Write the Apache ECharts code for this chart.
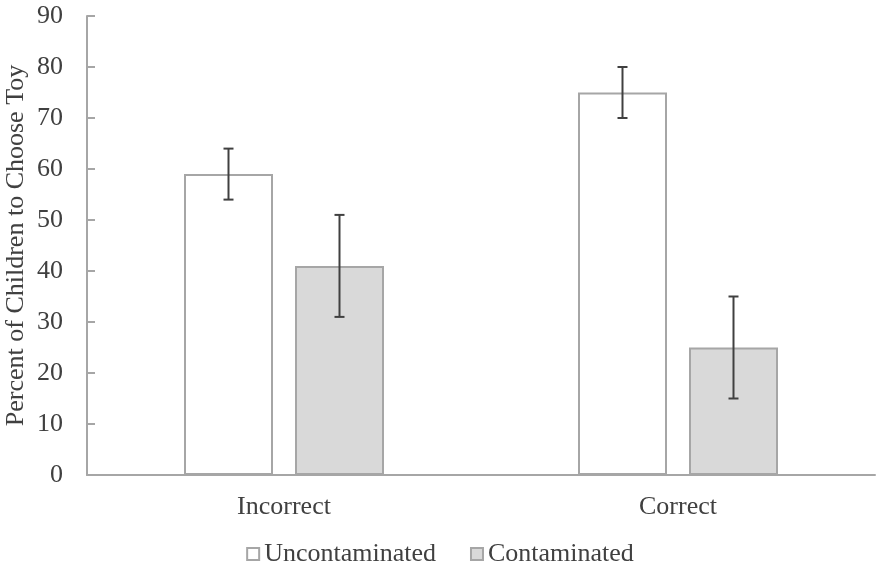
<!DOCTYPE html>
<html>
<head>
<meta charset="utf-8">
<script src="https://cdn.jsdelivr.net/npm/echarts@6/dist/echarts.min.js"></script>
<style>
  html, body { margin: 0; padding: 0; background: #fff; }
  #chart { width: 880px; height: 573px; }
</style>
</head>
<body>
<div id="chart"></div>
<script>
// 数据
var categories = ['Incorrect', 'Correct'];
var seriesNames = ['Uncontaminated', 'Contaminated'];
var uncontaminated = [59, 75];
var contaminated = [41, 25];
var uncontErr = [5, 5];
var contErr = [10, 10];
var yTicks = [0, 90, 10]; // min, max, interval

var font = 'Liberation Serif, Times New Roman, serif';
var barW = 89;
var barGapPx = 22;

// 误差线
function errorSeries(name, vals, errs, side) {
  var data = vals.map(function (v, i) { return [i, v - errs[i], v + errs[i]]; });
  return {
    type: 'custom',
    name: name + ' err',
    data: data,
    z: 10,
    silent: true,
    renderItem: function (params, api) {
      var i = api.value(0);
      var lo = api.coord([i, api.value(1)]);
      var hi = api.coord([i, api.value(2)]);
      var x = lo[0] + side * (barW + barGapPx) / 2;
      var cap = 5;
      var st = { stroke: '#404040', lineWidth: 2 };
      return {
        type: 'group',
        children: [
          { type: 'line', shape: { x1: x, y1: lo[1], x2: x, y2: hi[1] }, style: st },
          { type: 'line', shape: { x1: x - cap, y1: lo[1], x2: x + cap, y2: lo[1] }, style: st },
          { type: 'line', shape: { x1: x - cap, y1: hi[1], x2: x + cap, y2: hi[1] }, style: st }
        ]
      };
    }
  };
}

var myChart = echarts.init(document.getElementById('chart'));

var option = {
  animation: false,
  backgroundColor: '#fff',
  textStyle: { fontFamily: font },
  grid: { left: 87, right: 5, top: 16, bottom: 98, containLabel: false, outerBoundsMode: 'none' },
  legend: {
    data: seriesNames,
    icon: 'rect',
    top: 536,
    left: 'center',
    itemWidth: 12,
    itemHeight: 12,
    itemGap: 34,
    textStyle: { fontFamily: font, fontSize: 26, color: '#404040', padding: [0, 0, 0, 0] }
  },
  xAxis: {
    type: 'category',
    data: categories,
    axisLine: { lineStyle: { color: '#a6a6a6', width: 2 } },
    axisTick: { show: false },
    axisLabel: { fontFamily: font, fontSize: 26, color: '#404040', margin: 19 }
  },
  yAxis: {
    type: 'value',
    min: yTicks[0],
    max: yTicks[1],
    interval: yTicks[2],
    name: 'Percent of Children to Choose Toy',
    nameLocation: 'middle',
    nameGap: 58,
    nameMoveOverlap: false,
    nameTextStyle: { fontFamily: font, fontSize: 26, color: '#404040' },
    axisLine: { show: true, lineStyle: { color: '#a6a6a6', width: 2 } },
    axisTick: { show: true, inside: true, length: 8, lineStyle: { color: '#a6a6a6', width: 2 } },
    splitLine: { show: false },
    axisLabel: { fontFamily: font, fontSize: 26, color: '#404040', margin: 24 }
  },
  series: [
    {
      name: seriesNames[0],
      type: 'bar',
      data: uncontaminated,
      barWidth: barW,
      barGap: (barGapPx / barW * 100) + '%',
      itemStyle: { color: '#ffffff', borderColor: '#a6a6a6', borderWidth: 2 }
    },
    {
      name: seriesNames[1],
      type: 'bar',
      data: contaminated,
      barWidth: barW,
      itemStyle: { color: '#d9d9d9', borderColor: '#a6a6a6', borderWidth: 2 }
    },
    errorSeries(seriesNames[0], uncontaminated, uncontErr, -1),
    errorSeries(seriesNames[1], contaminated, contErr, 1)
  ]
};

myChart.setOption(option);
</script>
</body>
</html>
